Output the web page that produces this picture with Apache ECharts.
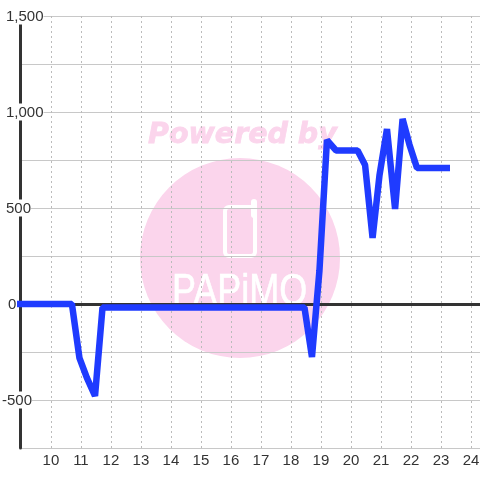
<!DOCTYPE html>
<html>
<head>
<meta charset="utf-8">
<style>html,body{margin:0;padding:0;background:#fff}#main{width:480px;height:480px}</style>
<script src="https://cdn.jsdelivr.net/npm/echarts@6/dist/echarts.min.js"></script>
</head>
<body>
<div id="main"></div>
<script>
var hours = [8.87, 9.45, 9.95, 10.45, 10.7, 10.95, 11.2, 11.47, 11.72, 12.2, 13.2, 14.2, 15.2, 16.2, 17.2, 18.2, 18.45, 18.7, 18.95, 19.2, 19.5, 19.7, 19.95, 20.22, 20.47, 20.72, 20.95, 21.2, 21.47, 21.72, 21.95, 22.2, 22.7, 23.3];
var values = [0, 0, 0, 0, 0, -280, -385, -479, -18, -18, -18, -18, -18, -18, -18, -18, -18, -276, 175, 854, 800, 800, 800, 800, 724, 344, 670, 911, 495, 964, 830, 708, 708, 708];
var xTicks = [10, 11, 12, 13, 14, 15, 16, 17, 18, 19, 20, 21, 22, 23, 24];
var yLabels = [-500, 0, 500, 1000, 1500];

var chart = echarts.init(document.getElementById('main'));
chart.setOption({
    animation: false,
    textStyle: {fontFamily: 'Liberation Sans'},
    grid: {left: 20, right: 0, top: 16, bottom: 32, outerBoundsMode: 'none'},
    graphic: [
        {type: 'circle', z: -1, shape: {cx: 240, cy: 258, r: 100}, style: {fill: '#fbd5ec'}},
        {type: 'text', z: -1, x: 148, y: 136, style: {text: 'Powered by', fill: '#fbd5ec', stroke: '#fbd5ec', lineWidth: 0.8, verticalAlign: 'middle', font: 'italic bold 28.5px "DejaVu Sans"'}},
        {type: 'rect', z: -1, shape: {x: 225, y: 207, width: 30, height: 49, r: 4}, style: {fill: 'none', stroke: '#fff', lineWidth: 4}},
        {type: 'line', z: -1, shape: {x1: 254, y1: 202, x2: 254, y2: 215}, style: {stroke: '#fff', lineWidth: 6, lineCap: 'round'}},
        {type: 'text', z: -1, x: 172, y: 270, scaleY: 1.25, style: {text: 'PAPiMO', fill: '#fff', stroke: '#fff', lineWidth: 0.5, font: '36px "Liberation Sans"'}}
    ],
    xAxis: [{
        type: 'value',
        min: 8.97,
        max: 24.3,
        axisLine: {onZero: false, show: false},
        axisTick: {show: false, customValues: xTicks},
        axisLabel: {fontSize: 15, color: '#333', margin: 5, customValues: xTicks},
        splitLine: {show: true, lineStyle: {color: '#bbb', type: [2, 3], width: 1}}
    }, {
        type: 'value',
        min: 8.97,
        max: 24.3,
        axisLine: {onZero: true, onZeroAxisIndex: 0, lineStyle: {color: '#333', width: 3}},
        axisTick: {show: false},
        axisLabel: {show: false},
        splitLine: {show: false}
    }],
    yAxis: {
        type: 'value',
        min: -750,
        max: 1500,
        interval: 250,
        axisLine: {show: true, lineStyle: {color: '#333', width: 3}},
        axisTick: {show: false},
        axisLabel: {
            inside: true,
            margin: -18,
            fontSize: 15,
            color: '#333',
            align: 'left',
            backgroundColor: '#fff',
            formatter: function (v) {
                if (yLabels.indexOf(v) < 0) return '';
                var s = echarts.format.addCommas(v);
                if (v === 0) return '{z|' + s + '}';
                return v > 0 ? '{p|' + s + '}' : '{n|' + s + '}';
            },
            rich: {
                p: {padding: [2, 0, 0, 4], fontSize: 15, color: '#333'},
                n: {padding: [2, 0, 0, 0], fontSize: 15, color: '#333'},
                z: {padding: [2, 0, 0, 6], fontSize: 15, color: '#333'}
            }
        },
        splitLine: {lineStyle: {color: '#c8c8c8', width: 1}}
    },
    series: [{
        type: 'line',
        data: hours.map(function (h, i) { return [h, values[i]]; }),
        symbol: 'none',
        clip: false,
        lineStyle: {color: '#1f3bff', width: 6.5, join: 'bevel', cap: 'butt'}
    }]
});
</script>
</body>
</html>
